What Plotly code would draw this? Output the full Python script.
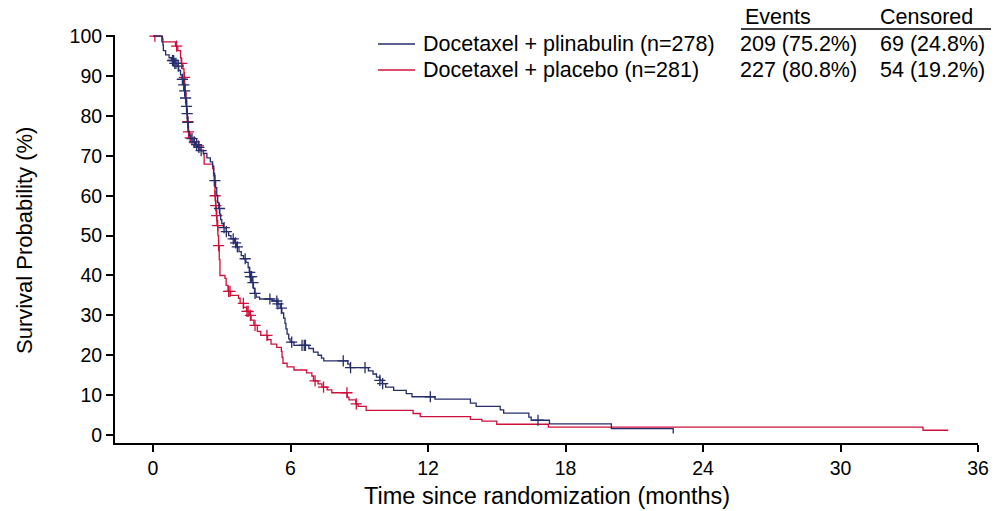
import numpy as np
import plotly.graph_objects as go

# ---------------- data ----------------
plin_t = [0, 0.41, 0.43, 0.45, 0.55, 0.7, 0.8, 0.95, 1.05, 1.12, 1.2, 1.27, 1.32, 1.36, 1.40,
          1.44, 1.47, 1.50, 1.53, 1.58, 1.65, 1.75, 1.85, 1.95, 2.05, 2.2, 2.35, 2.5, 2.6, 2.65,
          2.69, 2.73, 2.78, 2.82, 2.87, 2.91, 2.95, 3.0, 3.07, 3.2, 3.3, 3.4, 3.55, 3.65, 3.75,
          3.85, 3.95, 4.05, 4.15, 4.2, 4.25, 4.32, 4.38, 4.43, 4.5, 4.65, 5.2, 5.45, 5.55, 5.62,
          5.7, 5.76, 5.8, 5.85, 5.92, 5.98, 6.15, 6.8, 7.0, 7.2, 7.35, 7.45, 8.5, 8.6, 9.4, 9.6,
          9.75, 9.9, 10.0, 10.15, 10.5, 11.05, 11.3, 12.3, 13.85, 14.1, 15.15, 15.3, 16.4, 16.5,
          17.3, 20.0, 22.7]
plin_s = [100, 99.3, 97.8, 96.4, 95.3, 94.6, 93.9, 93.2, 92.5, 91.4, 90.3, 89.2, 87.8, 86.3, 84.5,
          82.4, 80.6, 78.4, 76.2, 75.1, 74.3, 73.5, 72.8, 72.1, 71.3, 70.6, 69.5, 68.5, 67.4, 65.6,
          63.8, 62.0, 60.1, 58.3, 56.8, 55.4, 54.0, 53.0, 52.0, 51.0, 50.0, 49.2, 48.2, 47.2, 46.0,
          45.0, 44.2, 43.3, 42.0, 40.8, 39.7, 38.2, 36.8, 35.5, 34.6, 34.1, 33.6, 32.9, 31.8, 30.6,
          29.3, 28.0, 26.6, 25.3, 24.1, 23.3, 22.5, 21.7, 20.8, 20.0, 19.3, 18.6, 17.8, 16.9, 16.1, 15.3,
          14.5, 13.7, 12.9, 12.0, 11.2, 10.4, 9.6, 9.0, 8.0, 7.2, 6.3, 5.5, 4.5, 3.7,
          2.8, 1.6, 0.4]
plin_cens = [0.85, 0.9, 0.95, 1.0, 1.1, 1.28, 1.34, 1.38, 1.42, 1.46, 1.49, 1.52, 1.7, 1.8, 1.9,
             2.0, 2.1, 2.7, 2.9, 3.1, 3.2, 3.5, 3.6, 3.68, 4.02, 4.22, 4.25, 4.3, 4.36, 4.45, 5.1,
             5.4, 5.45, 5.6, 6.05, 6.5, 6.6, 6.65, 8.3, 8.62, 9.25, 9.9, 10.02, 12.1, 16.8]

plac_t = [0, 0.38, 0.98, 1.08, 1.2, 1.23, 1.3, 1.35, 1.38, 1.41, 1.44, 1.47, 1.5, 1.53, 1.57, 1.65,
          1.8, 2.0, 2.2, 2.23, 2.6, 2.64, 2.67, 2.70, 2.73, 2.76, 2.79, 2.83, 2.86, 2.89, 2.92, 3.14,
          3.19, 3.27, 3.38, 3.73, 3.8, 3.95, 4.08, 4.2, 4.28, 4.4, 4.55, 4.7, 5.0, 5.15, 5.4, 5.6,
          5.63, 5.67, 5.85, 6.15, 6.7, 6.93, 7.0, 7.2, 7.37, 7.6, 7.8, 8.48, 8.55, 8.85, 8.95, 9.3,
          11.35, 11.66, 13.85, 14.35, 15.0, 17.25, 33.6, 34.7]
plac_s = [100, 98.6, 97.5, 96.4, 94.6, 93.2, 91.8, 89.7, 88.0, 86.0, 84.0, 81.5, 78.6, 76.0, 74.5, 73.5,
          72.5, 71.4, 70.4, 67.9, 66.8, 65.0, 62.5, 60.0, 57.5, 55.0, 52.5, 50.0, 47.5, 44.0, 40.0, 39.3,
          37.5, 36.0, 35.0, 34.3, 33.0, 32.0, 31.0, 30.0, 28.8, 27.5, 26.0, 25.0, 23.9, 22.8, 22.0, 21.0,
          19.5, 18.0, 17.1, 16.3, 15.6, 14.8, 13.6, 12.8, 12.0, 11.3, 10.6, 9.5, 8.8, 7.8, 7.2, 6.2,
          5.4, 4.6, 3.9, 3.5, 2.7, 2.0, 1.2, 1.2]
plac_cens = [0.08, 1.03, 1.25, 1.37, 1.52, 1.55, 1.62, 1.98, 2.71, 2.74, 2.78, 2.82, 2.86, 3.3, 3.36,
             3.94, 4.1, 4.15, 4.25, 4.45, 4.97, 7.07, 7.44, 8.46, 8.87]

x_ticks = [0, 6, 12, 18, 24, 30, 36]
y_ticks = [0, 10, 20, 30, 40, 50, 60, 70, 80, 90, 100]

arm_names = ["Docetaxel + plinabulin (n=278)", "Docetaxel + placebo (n=281)"]
events = ["209 (75.2%)", "227 (80.8%)"]
censored = ["69 (24.8%)", "54 (19.2%)"]
x_title = "Time since randomization (months)"
y_title = "Survival Probability (%)"

BLUE = "#262d6e"
RED = "#d0103c"
FONT = "Liberation Sans, Arial, sans-serif"
LEG_SIZE = 21.5

W, H = 994, 511
L, R, T, B = 115, 16, 35, 68


def px2x(px):
    return (px - L) / (W - L - R)


def py2y(py):
    return (H - B - py) / (H - T - B)


def step_val(ts, ss, t):
    i = np.searchsorted(np.asarray(ts), t, side="right") - 1
    return np.asarray(ss)[np.clip(i, 0, len(ss) - 1)]


fig = go.Figure()
for ts, ss, cens, col, name in [(plac_t, plac_s, plac_cens, RED, arm_names[1]),
                                (plin_t, plin_s, plin_cens, BLUE, arm_names[0])]:
    fig.add_trace(go.Scatter(x=ts, y=ss, mode="lines", line=dict(color=col, width=1.3, shape="hv"),
                             name=name, showlegend=False, hoverinfo="skip"))
    fig.add_trace(go.Scatter(x=cens, y=step_val(ts, ss, np.array(cens)), mode="markers",
                             marker=dict(symbol="cross-thin", size=8, line=dict(color=col, width=1.3)),
                             showlegend=False, hoverinfo="skip"))

fig.update_layout(
    width=W, height=H,
    margin=dict(l=L, r=R, t=T, b=B, autoexpand=False),
    paper_bgcolor="white", plot_bgcolor="white",
    font=dict(family=FONT, color="black"),
    xaxis=dict(range=[-1.66, 36], tickvals=x_ticks, ticktext=[str(v) for v in x_ticks],
               showgrid=False, zeroline=False, showline=True, linecolor="black", linewidth=2,
               ticks="outside", ticklen=7, tickwidth=2, tickcolor="black", automargin=False,
               tickfont=dict(size=19.5, family=FONT)),
    yaxis=dict(range=[-2, 100.3], tickvals=y_ticks, ticktext=[str(v) for v in y_ticks],
               showgrid=False, zeroline=False, showline=True, linecolor="black", linewidth=2,
               ticks="outside", ticklen=7, tickwidth=2, tickcolor="black", automargin=False,
               tickfont=dict(size=19.5, family=FONT)),
)

# axis titles, legend and table
shapes = []
ann = [
    dict(xref="paper", yref="paper", x=px2x(547), y=py2y(496), text=x_title, showarrow=False,
         xanchor="center", yanchor="middle", font=dict(size=23.5, family=FONT)),
    dict(xref="paper", yref="paper", x=px2x(24), y=py2y(241), text=y_title, showarrow=False,
         textangle=-90, xanchor="center", yanchor="middle", font=dict(size=22, family=FONT)),
]
for i, (col, yy) in enumerate([(BLUE, 44), (RED, 70)]):
    shapes.append(dict(type="line", xref="paper", yref="paper", x0=px2x(378), x1=px2x(415),
                       y0=py2y(yy), y1=py2y(yy), line=dict(color=col, width=1.5)))
    ann.append(dict(xref="paper", yref="paper", x=px2x(421), y=py2y(yy), text=arm_names[i],
                    showarrow=False, xanchor="left", yanchor="middle", font=dict(size=LEG_SIZE, family=FONT)))
    ann.append(dict(xref="paper", yref="paper", x=px2x(738), y=py2y(yy), text=events[i],
                    showarrow=False, xanchor="left", yanchor="middle", font=dict(size=LEG_SIZE, family=FONT)))
    ann.append(dict(xref="paper", yref="paper", x=px2x(878), y=py2y(yy), text=censored[i],
                    showarrow=False, xanchor="left", yanchor="middle", font=dict(size=LEG_SIZE, family=FONT)))
ann.append(dict(xref="paper", yref="paper", x=px2x(743), y=py2y(17), text="Events",
                showarrow=False, xanchor="left", yanchor="middle", font=dict(size=LEG_SIZE, family=FONT)))
ann.append(dict(xref="paper", yref="paper", x=px2x(878), y=py2y(17), text="Censored",
                showarrow=False, xanchor="left", yanchor="middle", font=dict(size=LEG_SIZE, family=FONT)))
shapes.append(dict(type="line", xref="paper", yref="paper", x0=px2x(741), x1=px2x(991),
                   y0=py2y(29), y1=py2y(29), line=dict(color="black", width=1.5)))
fig.update_layout(shapes=shapes, annotations=ann)

fig.write_html("out.html")
